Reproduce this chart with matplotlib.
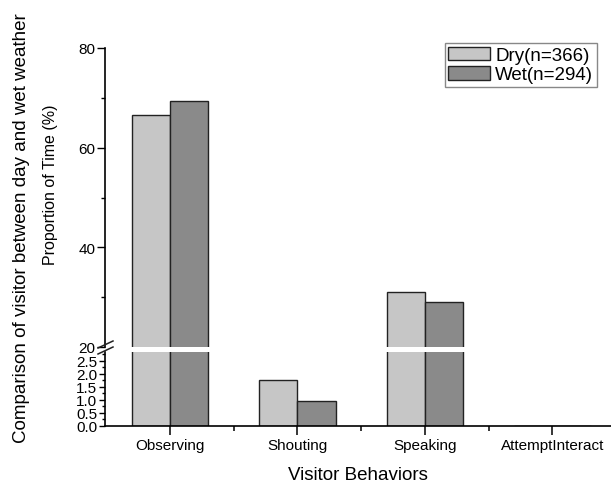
import matplotlib
matplotlib.use("Agg")
import matplotlib.pyplot as plt
from matplotlib.ticker import MultipleLocator, FormatStrFormatter
import numpy as np

behaviors = ["Observing", "Shouting", "Speaking", "AttemptInteract"]
dry = [66.6, 1.75, 31.1, 0.0]
wet = [69.4, 0.94, 29.1, 0.0]
dry_label = "Dry(n=366)"
wet_label = "Wet(n=294)"

plt.rcParams["font.family"] = ["Liberation Sans", "DejaVu Sans"]

W, H = 611, 485
fig = plt.figure(figsize=(W / 100, H / 100), dpi=100)

def box(x0, y_top, x1, y_bot):
    # pixel box -> figure fraction [left, bottom, width, height]
    return [x0 / W, 1 - y_bot / H, (x1 - x0) / W, (y_bot - y_top) / H]

ax_top = fig.add_axes(box(105, 49, 611, 348))
ax_bot = fig.add_axes(box(105, 353, 611, 426.7))

x = np.arange(len(behaviors))
bw = 0.3
c_dry = "#c6c6c6"
c_wet = "#8a8a8a"

for ax in (ax_top, ax_bot):
    ax.bar(x - bw / 2, dry, bw, color=c_dry, edgecolor="#222222", linewidth=1.0, label=dry_label)
    ax.bar(x + bw / 2, wet, bw, color=c_wet, edgecolor="#222222", linewidth=1.0, label=wet_label)
    ax.set_xlim(-0.51, 3.46)
    for s in ("top", "right"):
        ax.spines[s].set_visible(False)
    ax.spines["left"].set_linewidth(1.2)
    ax.spines["bottom"].set_linewidth(1.2)
    ax.tick_params(axis="y", which="both", direction="out", width=1.0, labelsize=11, pad=1)

ax_top.set_ylim(20, 80)
ax_top.yaxis.set_major_locator(MultipleLocator(20))
ax_top.yaxis.set_minor_locator(MultipleLocator(10))
ax_top.spines["bottom"].set_visible(False)
ax_top.tick_params(axis="x", which="both", bottom=False, labelbottom=False)
ax_top.tick_params(axis="y", which="major", length=6)
ax_top.tick_params(axis="y", which="minor", length=3)

ax_bot.set_ylim(0, 2.83)
ax_bot.yaxis.set_major_locator(MultipleLocator(0.5))
ax_bot.yaxis.set_minor_locator(MultipleLocator(0.25))
ax_bot.yaxis.set_major_formatter(FormatStrFormatter("%.1f"))
ax_bot.tick_params(axis="y", which="major", length=4.5)
ax_bot.tick_params(axis="y", which="minor", length=2.5)
ax_bot.set_xticks(x)
ax_bot.set_xticklabels(behaviors, fontsize=11)
ax_bot.set_xticks(x[:-1] + 0.5, minor=True)
ax_bot.tick_params(axis="x", which="major", direction="out", length=6.5, width=1.1, pad=2)
ax_bot.tick_params(axis="x", which="minor", direction="out", length=3.7, width=1.1)

# break marks on the y axis
for dy in (0, 6):
    fig.add_artist(plt.Line2D([98 / W, 113 / W],
                              [1 - (355 - dy) / H, 1 - (348 - dy) / H],
                              color="#222222", linewidth=1.1))

fig.text(50 / W, 1 - 185 / H, "Proportion of Time (%)", rotation=90,
         ha="center", va="center", fontsize=11.5)
fig.text(22 / W, 1 - 228 / H, "Comparison of visitor between day and wet weather",
         rotation=90, ha="center", va="center", fontsize=13.5)
fig.text(358 / W, 1 - 476 / H, "Visitor Behaviors", ha="center", va="center", fontsize=13.5)

ax_top.legend(loc="upper right", bbox_to_anchor=(597 / W, 1 - 44 / H),
              bbox_transform=fig.transFigure, borderaxespad=0, fontsize=13.5,
              fancybox=False, edgecolor="#888888", framealpha=1,
              handlelength=2.2, handleheight=0.75, borderpad=0.2,
              labelspacing=0.1, handletextpad=0.3)

fig.savefig("out.png", dpi=100)
